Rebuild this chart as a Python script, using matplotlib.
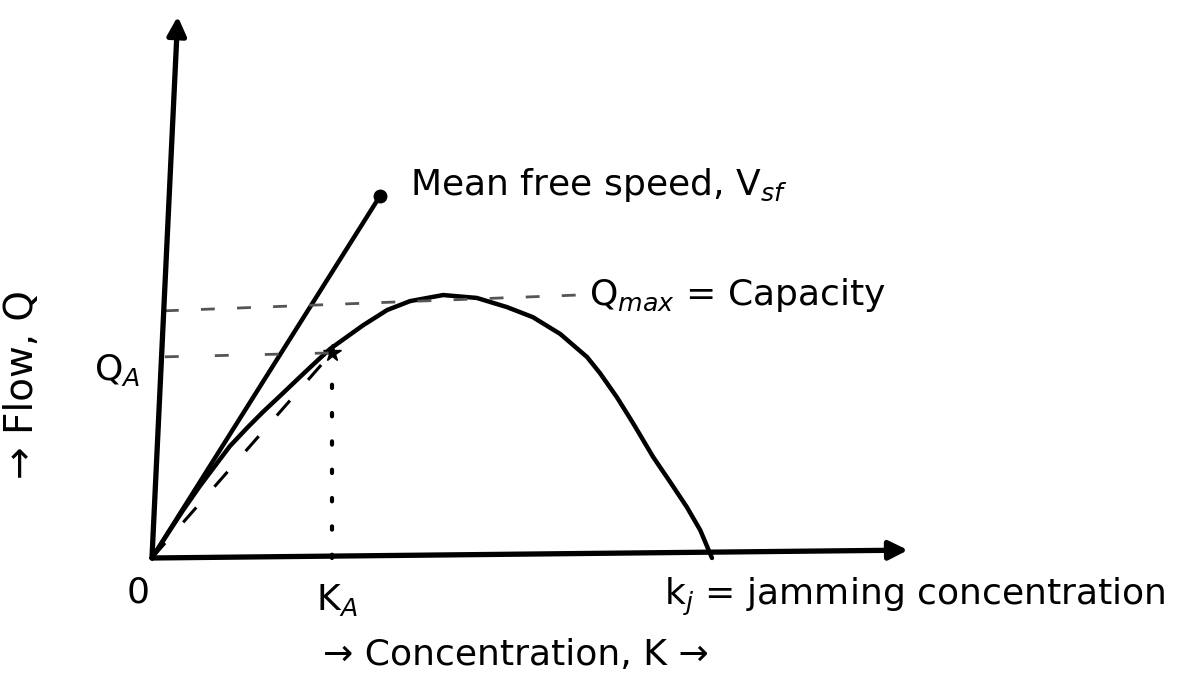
import matplotlib
matplotlib.use("Agg")
import matplotlib.pyplot as plt
import numpy as np

# flow-concentration curve (k in % of jam density, q in % of capacity)
k_curve = [0, 3.2, 5.5, 8.6, 11.6, 13.9, 17.0, 19.8, 23.4, 26.4, 29.5, 31.8,
           35.4, 37.7, 42.0, 46.1, 52.0, 58.0, 63.4, 68.0, 72.9, 77.7, 80.0,
           83.0, 85.9, 89.5, 92.5, 95.5, 97.9, 100]
q_curve = [0, 10.5, 18.0, 27.5, 36.0, 42.5, 49.5, 55.5, 62.7, 68.8, 75.0, 79.5,
           85.0, 88.5, 94.3, 97.7, 100, 98.9, 95.4, 91.6, 85.2, 76.4, 70.3,
           61.2, 51.3, 38.4, 29.0, 19.4, 10.6, 0]

k_A, q_A = 32.1, 78.0       # chosen operating point
q_max = 100.0
k_jam = 100.0
vsf_end = (40.7, 137.6)     # end of the free-speed tangent

plt.rcParams['font.family'] = ['DejaVu Sans']

fig = plt.figure(figsize=(11.93, 6.8), dpi=100)
ax = fig.add_axes([0, 0, 1, 1])
ax.set_xlim(-27.14, 185.9)
ax.set_ylim(-46.4, 212.2)
ax.axis('off')

# axes drawn as arrows
arrow = dict(arrowstyle='-|>', lw=3.8, color='black',
             mutation_scale=28, shrinkA=0, shrinkB=0)
ax.annotate('', xy=(4.6, 206), xytext=(0, 0), arrowprops=arrow)
ax.annotate('', xy=(135, 3), xytext=(0, 0), arrowprops=arrow)

# q-k curve
ax.plot(k_curve, q_curve, color='black', lw=3.2,
        solid_capstyle='round', solid_joinstyle='round')

# tangent at origin = mean free speed
ax.plot([0, vsf_end[0]], [0, vsf_end[1]], color='black', lw=3.2)
ax.plot(*vsf_end, marker='o', ms=9, color='black')

# chord to point A
ax.plot([0, k_A], [0, q_A], color='black', lw=2.2, dashes=(6.5, 9))
ax.plot(k_A, q_A, marker='*', ms=13, color='black')

# reference lines
ax.plot([2.3, k_A], [q_A - 1.5, q_A], color='#555555', lw=2, dashes=(5, 13))
ax.plot([2.3, 76], [94, 100], color='#555555', lw=2, dashes=(5, 8))
ax.plot([k_A, k_A], [0, q_A - 5], color='black', lw=3, ls=(0, (0.8, 6)),
        dash_capstyle='round')

txt = dict(color='black', fontsize=26)
ax.text(46, 142, 'Mean free speed, V$_{sf}$', va='center', ha='left', **txt)
ax.text(78, 100, 'Q$_{max}$ = Capacity', va='center', ha='left', **txt)
ax.text(-6.3, 71.5, 'Q$_A$', va='center', ha='center', **txt)
ax.text(-2.5, -13, '0', va='center', ha='center', **txt)
ax.text(33, -16, 'K$_A$', va='center', ha='center', **txt)
ax.text(91.5, -15, 'k$_j$ = jamming concentration', va='center', ha='left', **txt)
ax.text(30.5, -37, '→ Concentration, K →', va='center', ha='left', **txt)
ax.text(-23.3, 65.8, '→ Flow, Q', va='center', ha='center', rotation=90,
        color='black', fontsize=28)

fig.savefig('out.png', dpi=100, facecolor='white')
